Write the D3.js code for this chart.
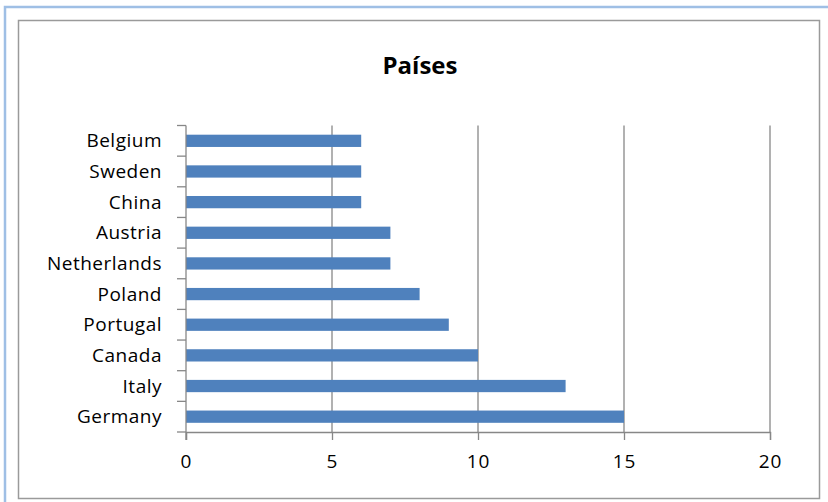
<!DOCTYPE html>
<html>
  <head>
    <meta charset="utf-8">
    <style>
      body { margin: 0; background: #fff; }
      text { font-family: "Open Sans", Lato, sans-serif; fill: #000; }
    </style>
  </head>
  <body>
    <script src="https://d3js.org/d3.v7.min.js"></script>
    <script>
      // data
      var countries = ["Belgium", "Sweden", "China", "Austria", "Netherlands",
                       "Poland", "Portugal", "Canada", "Italy", "Germany"];
      var values = [6, 6, 6, 7, 7, 8, 9, 10, 13, 15];
      var xTicks = [0, 5, 10, 15, 20];
      var title = "Países";

      var W = 828, H = 502;
      // plot area (don't use "top", it clashes with window.top)
      var pLeft = 186, pRight = 770, pTop = 125.5, pBottom = 432;

      var svg = d3.select("body").append("svg")
        .attr("width", W).attr("height", H);

      // outer blue frame (partial, like a cropped screenshot)
      svg.append("path")
        .attr("d", "M5,502 L5,7 L828,7")
        .attr("fill", "none")
        .attr("stroke", "#9fbfe5")
        .attr("stroke-width", 2.5);

      // chart border
      svg.append("rect")
        .attr("x", 18.5).attr("y", 20.5)
        .attr("width", 801).attr("height", 478)
        .attr("fill", "#fff")
        .attr("stroke", "#9a9a9a")
        .attr("stroke-width", 1.5);

      var x = d3.scaleLinear().domain([0, 20]).range([pLeft, pRight]);
      var y = d3.scaleBand().domain(countries).range([pTop, pBottom]).paddingInner(0.6).paddingOuter(0.3);
      var yb = d3.scaleBand().domain(countries).range([pTop, pBottom]);

      // title
      svg.append("text")
        .attr("x", 420).attr("y", 74)
        .attr("text-anchor", "middle")
        .style("font-size", "24px")
        .style("font-weight", "bold")
        .text(title);

      // vertical gridlines
      svg.append("g").selectAll("line")
        .data(xTicks.filter(function(d){ return d > 0; }))
        .enter().append("line")
        .attr("x1", function(d){ return x(d); })
        .attr("x2", function(d){ return x(d); })
        .attr("y1", pTop).attr("y2", pBottom)
        .attr("stroke", "#878787")
        .attr("stroke-width", 1.3);

      // bars
      svg.append("g").selectAll("rect")
        .data(countries)
        .enter().append("rect")
        .attr("x", x(0))
        .attr("y", function(d){ return y(d); })
        .attr("width", function(d, i){ return x(values[i]) - x(0); })
        .attr("height", y.bandwidth())
        .attr("fill", "#4f81bd");

      // x axis
      var xAxis = svg.append("g")
        .attr("transform", "translate(0," + pBottom + ")")
        .call(d3.axisBottom(x).tickValues(xTicks).tickSize(8).tickPadding(15));
      xAxis.select(".domain").attr("stroke", "#878787").attr("stroke-width", 1.3);
      xAxis.selectAll(".tick line").attr("stroke", "#878787").attr("stroke-width", 1.3);
      xAxis.selectAll("text")
        .style("font-size", "19px")
        .style("letter-spacing", "1px")
        .style("font-family", "'Open Sans', Lato, sans-serif")
        .attr("fill", "#000");

      // y axis: ticks at band boundaries
      var yAxisG = svg.append("g");
      yAxisG.append("line")
        .attr("x1", pLeft).attr("x2", pLeft)
        .attr("y1", pTop).attr("y2", pBottom + 8)
        .attr("stroke", "#878787").attr("stroke-width", 1.3);
      var bounds = countries.map(function(d){ return yb(d); }).concat([pBottom]);
      yAxisG.selectAll(".bt")
        .data(bounds)
        .enter().append("line")
        .attr("class", "bt")
        .attr("x1", pLeft - 9).attr("x2", pLeft)
        .attr("y1", function(d){ return d; })
        .attr("y2", function(d){ return d; })
        .attr("stroke", "#878787").attr("stroke-width", 1.3);
      yAxisG.selectAll("text")
        .data(countries)
        .enter().append("text")
        .attr("x", pLeft - 24)
        .attr("y", function(d){ return yb(d) + yb.bandwidth() / 2; })
        .attr("dy", "0.35em")
        .attr("text-anchor", "end")
        .style("font-size", "19px")
        .style("letter-spacing", "0.5px")
        .text(function(d){ return d; });
    </script>
  </body>
</html>
